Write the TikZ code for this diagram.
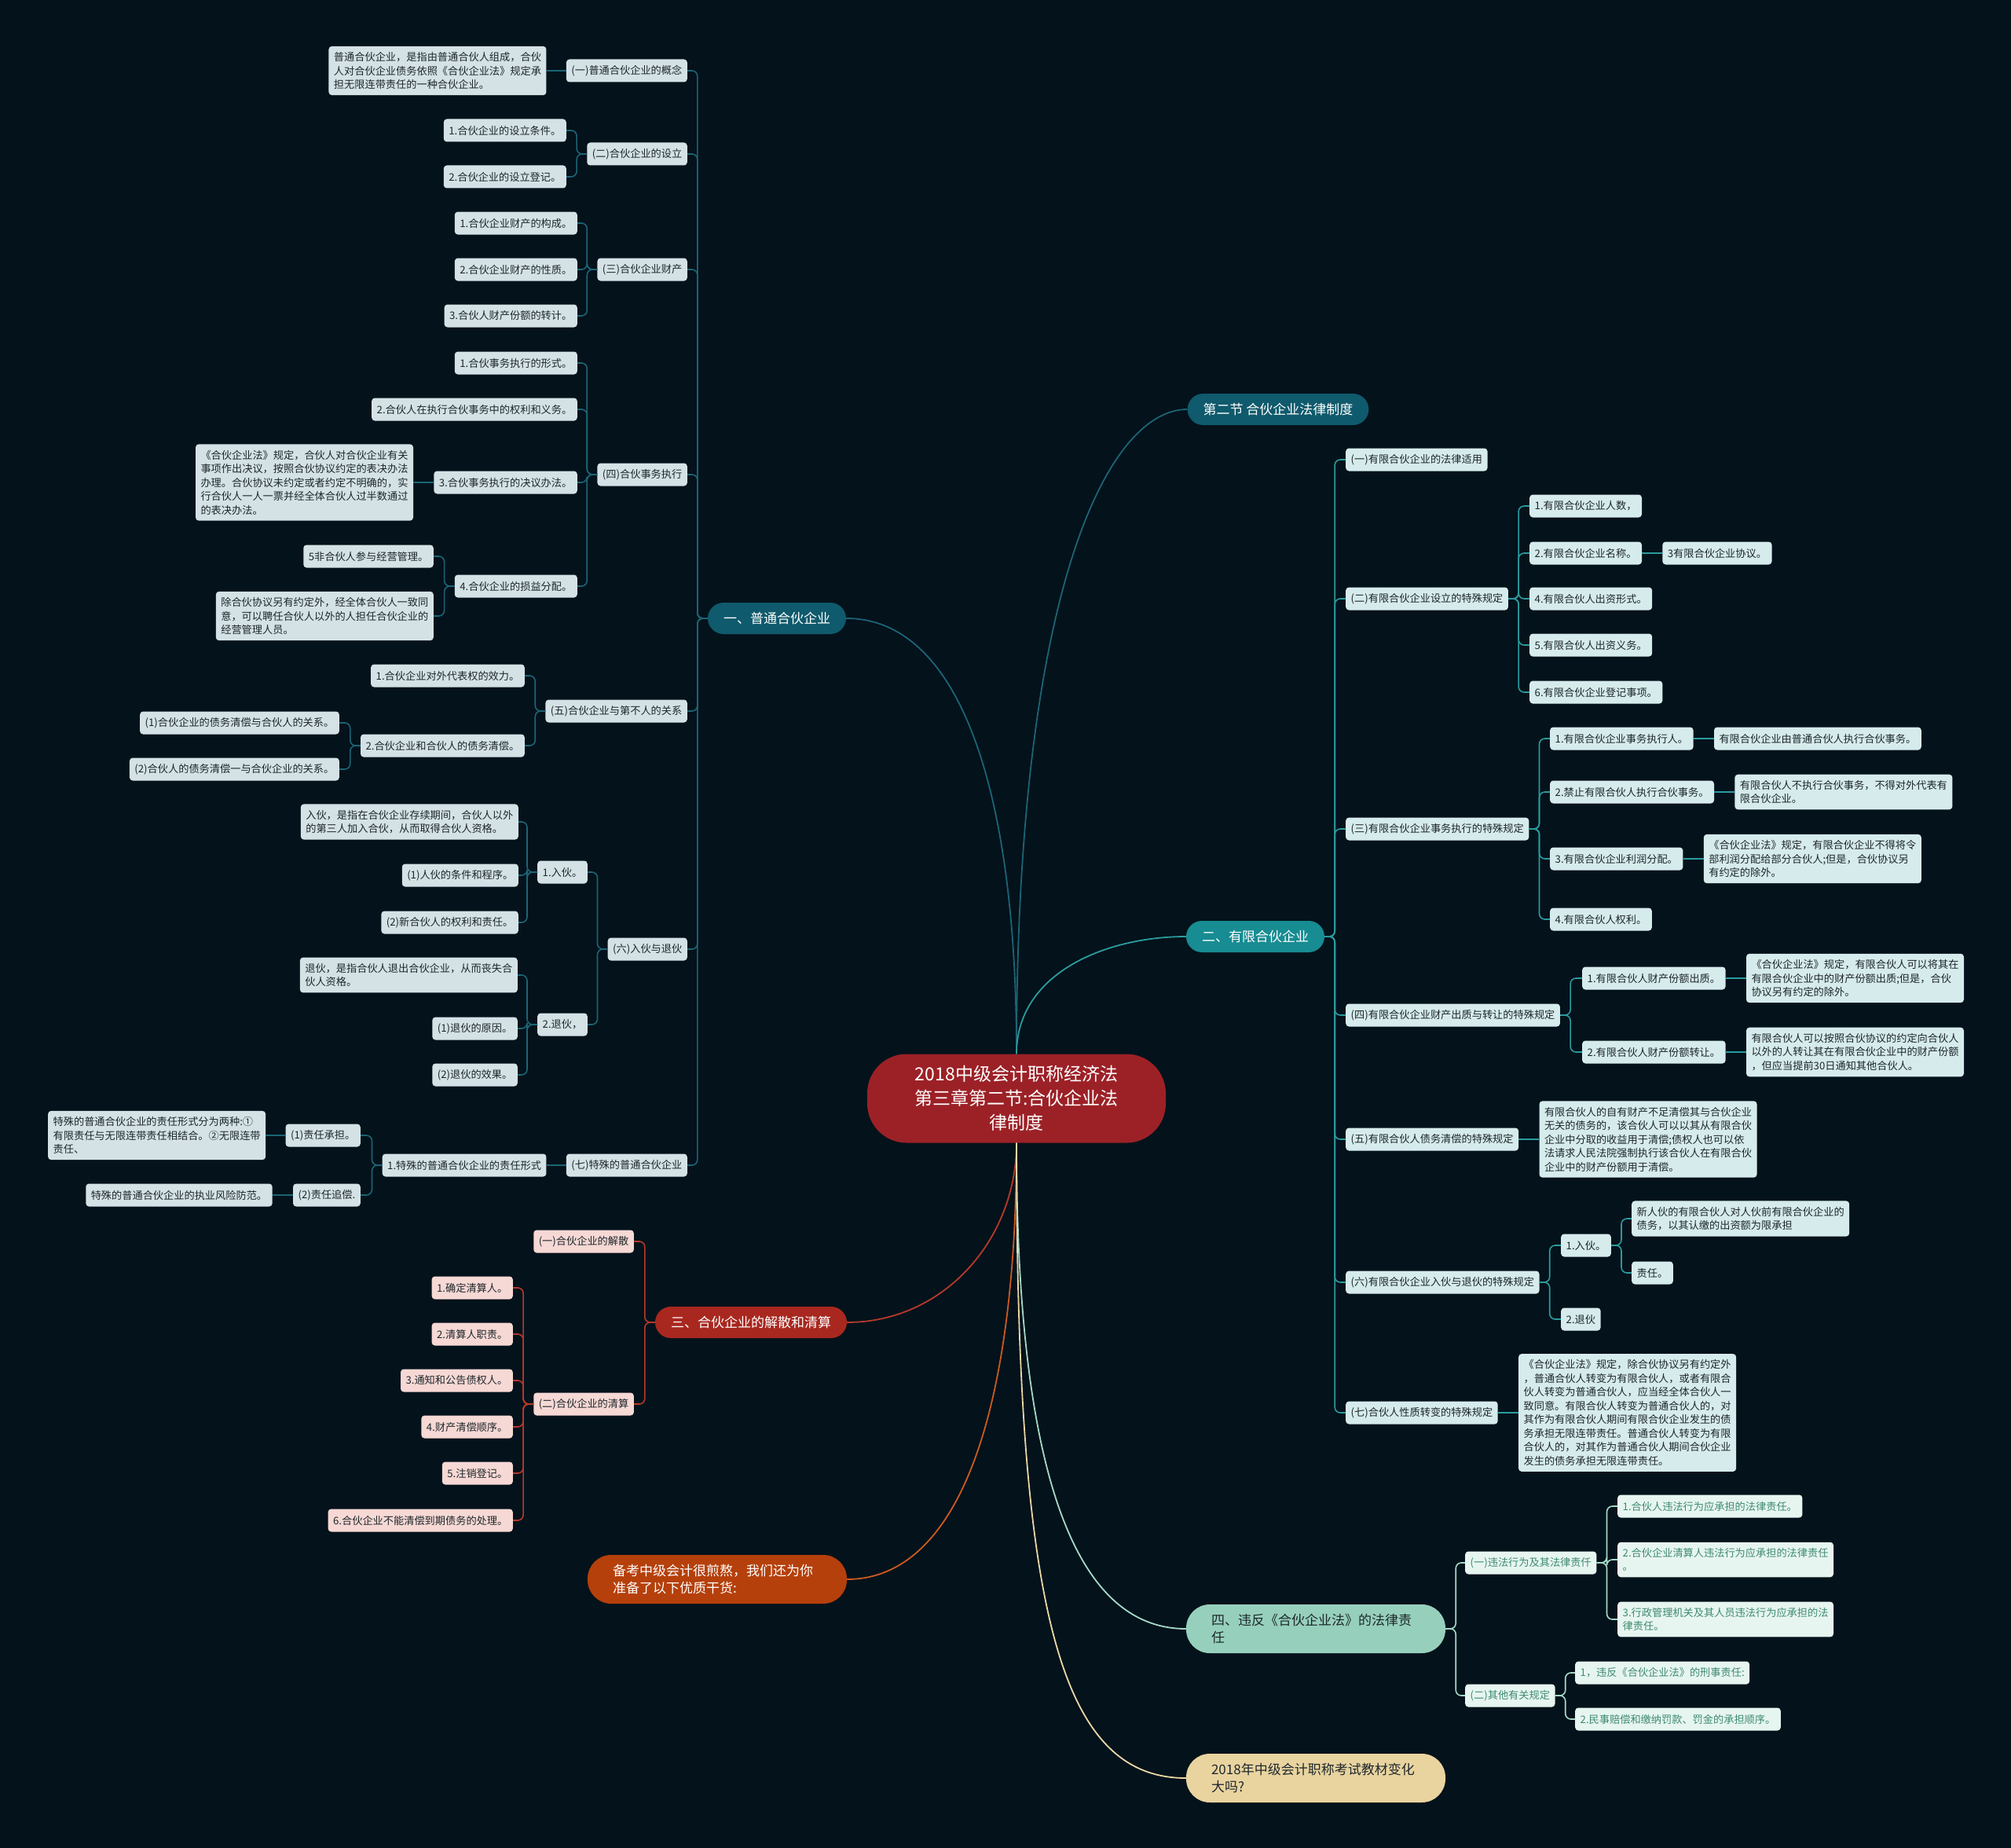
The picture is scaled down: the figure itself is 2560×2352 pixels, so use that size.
\documentclass[tikz,border=0pt]{standalone}
\usepackage{fontspec}
\setmainfont{Noto Sans CJK SC}
\usepackage{tikz}
\usetikzlibrary{positioning}
\definecolor{nightBg}{HTML}{04121B}
\definecolor{deepTeal}{HTML}{0F5A6C}
\definecolor{brightTeal}{HTML}{178C92}
\definecolor{rootRed}{HTML}{9C2127}
\definecolor{brick}{HTML}{A8281F}
\definecolor{rust}{HTML}{B5400B}
\definecolor{mint}{HTML}{96D0BC}
\definecolor{sand}{HTML}{E9D4A0}
\definecolor{paleSlate}{HTML}{D4E2E6}
\definecolor{paleCyan}{HTML}{D6EBEC}
\definecolor{palePink}{HTML}{F6D8D4}
\definecolor{paleMint}{HTML}{E7F5F0}
\definecolor{ink}{HTML}{1E272C}
\definecolor{mintInk}{HTML}{3E8B70}
\definecolor{lineTeal}{HTML}{1C6475}
\definecolor{lineCyan}{HTML}{2A9C9E}
\definecolor{lineRed}{HTML}{B63A2B}
\definecolor{lineRust}{HTML}{CB5B20}
\definecolor{lineMint}{HTML}{A4D9C7}
\definecolor{lineSand}{HTML}{EAD8A6}
\tikzset{
  leaf/.style={rectangle, rounded corners=4pt, fill=paleSlate, text=ink, align=left,
               font=\fontsize{13.2}{17.5}\selectfont, inner xsep=6.5pt, inner ysep=7.5pt,
               minimum height=29pt},
  leafcyan/.style={leaf, fill=paleCyan},
  leafpink/.style={leaf, fill=palePink},
  leafmint/.style={leaf, fill=paleMint, text=mintInk},
  branch/.style={rectangle, rounded corners=20pt, text=white, minimum height=40pt,
                 inner xsep=20pt, font=\fontsize{17}{22.5}\selectfont},
  widebranch/.style={rectangle, rounded corners=30pt, text width=266pt, inner xsep=32pt,
                     inner ysep=11pt, minimum height=62pt, align=left,
                     font=\fontsize{17}{22.5}\selectfont},
  hub/.style={rectangle, rounded corners=50pt, fill=rootRed, text=white, text width=270pt,
              inner xsep=55pt, minimum height=113pt, align=center,
              font=\fontsize{23}{31}\selectfont},
  toL/.style={to path={-- ++(-13,0) |- (\tikztotarget)}},
  toR/.style={to path={-- ++(13,0) |- (\tikztotarget)}},
  link/.style={line width=1.6pt, rounded corners=7pt},
  stem/.style={line width=1.8pt}
}
\begin{document}
\begin{tikzpicture}[x=1pt, y=-1pt]
\fill[nightBg] (0,0) rectangle (2560,2352);
\useasboundingbox (0,0) rectangle (2560,2352);

% centre and main branches
\node[hub] (hub) at (1294,1398) {2018中级会计职称经济法\\第三章第二节:合伙企业法\\律制度};
\node[branch, fill=deepTeal] (pt) at (989,787) {一、普通合伙企业};
\node[branch, fill=deepTeal] (jz) at (1627,521) {第二节 合伙企业法律制度};
\node[branch, fill=brightTeal] (yx) at (1598,1192) {二、有限合伙企业};
\node[branch, fill=brick] (js) at (956,1683) {三、合伙企业的解散和清算};
\node[widebranch, fill=rust, text=white] (bk) at (913,2010) {备考中级会计很煎熬，我们还为你\\准备了以下优质干货:};
\node[widebranch, fill=mint, text=ink] (wf) at (1675,2073) {四、违反《合伙企业法》的法律责\\任};
\node[widebranch, fill=sand, text=ink] (jc) at (1675,2263) {2018年中级会计职称考试教材变化\\大吗?};

% 一、普通合伙企业
\node[leaf, anchor=east] (pt1) at (875,90) {(一)普通合伙企业的概念};
\node[leaf, left=25pt of pt1] (pt1x) {普通合伙企业，是指由普通合伙人组成，合伙\\人对合伙企业债务依照《合伙企业法》规定承\\担无限连带责任的一种合伙企业。};
\node[leaf, anchor=east] (pt2) at (875,196) {(二)合伙企业的设立};
\node[leaf, anchor=east] (pt2a) at (721,166) {1.合伙企业的设立条件。};
\node[leaf, anchor=east] (pt2b) at (721,225) {2.合伙企业的设立登记。};
\node[leaf, anchor=east] (pt3) at (875,343) {(三)合伙企业财产};
\node[leaf, anchor=east] (pt3a) at (735,284) {1.合伙企业财产的构成。};
\node[leaf, anchor=east] (pt3b) at (735,343) {2.合伙企业财产的性质。};
\node[leaf, anchor=east] (pt3c) at (735,402) {3.合伙人财产份额的转计。};
\node[leaf, anchor=east] (pt4) at (875,604) {(四)合伙事务执行};
\node[leaf, anchor=east] (pt4a) at (735,462) {1.合伙事务执行的形式。};
\node[leaf, anchor=east] (pt4b) at (735,521) {2.合伙人在执行合伙事务中的权利和义务。};
\node[leaf, anchor=east] (pt4c) at (735,614) {3.合伙事务执行的决议办法。};
\node[leaf, left=26pt of pt4c] (pt4cx) {《合伙企业法》规定，合伙人对合伙企业有关\\事项作出决议，按照合伙协议约定的表决办法\\办理。合伙协议未约定或者约定不明确的，实\\行合伙人一人一票并经全体合伙人过半数通过\\的表决办法。};
\node[leaf, anchor=east] (pt4d) at (735,746) {4.合伙企业的损益分配。};
\node[leaf, anchor=east] (pt4d1) at (552,708) {5非合伙人参与经营管理。};
\node[leaf, anchor=east] (pt4d2) at (552,784) {除合伙协议另有约定外，经全体合伙人一致同\\意，可以聘任合伙人以外的人担任合伙企业的\\经营管理人员。};
\node[leaf, anchor=east] (pt5) at (875,905) {(五)合伙企业与第不人的关系};
\node[leaf, anchor=east] (pt5a) at (668,860) {1.合伙企业对外代表权的效力。};
\node[leaf, anchor=east] (pt5b) at (668,949) {2.合伙企业和合伙人的债务清偿。};
\node[leaf, anchor=east] (pt5b1) at (432,920) {(1)合伙企业的债务清偿与合伙人的关系。};
\node[leaf, anchor=east] (pt5b2) at (432,979) {(2)合伙人的债务清偿一与合伙企业的关系。};
\node[leaf, anchor=east] (pt6) at (875,1208) {(六)入伙与退伙};
\node[leaf, anchor=east] (pt6a) at (748,1110) {1.入伙。};
\node[leaf, anchor=east] (pt6a1) at (660,1046) {入伙，是指在合伙企业存续期间，合伙人以外\\的第三人加入合伙，从而取得合伙人资格。};
\node[leaf, anchor=east] (pt6a2) at (660,1114) {(1)人伙的条件和程序。};
\node[leaf, anchor=east] (pt6a3) at (660,1174) {(2)新合伙人的权利和责任。};
\node[leaf, anchor=east] (pt6b) at (748,1304) {2.退伙，};
\node[leaf, anchor=east] (pt6b1) at (659,1241) {退伙，是指合伙人退出合伙企业，从而丧失合\\伙人资格。};
\node[leaf, anchor=east] (pt6b2) at (659,1309) {(1)退伙的原因。};
\node[leaf, anchor=east] (pt6b3) at (659,1368) {(2)退伙的效果。};
\node[leaf, anchor=east] (pt7) at (875,1483) {(七)特殊的普通合伙企业};
\node[leaf, left=25pt of pt7] (pt7a) {1.特殊的普通合伙企业的责任形式};
\node[leaf, anchor=east] (pt7a1) at (459,1445) {(1)责任承担。};
\node[leaf, left=25pt of pt7a1] (pt7a1x) {特殊的普通合伙企业的责任形式分为两种:①\\有限责任与无限连带责任相结合。②无限连带\\责任、};
\node[leaf, anchor=east] (pt7a2) at (459,1521) {(2)责任追偿.};
\node[leaf, left=26pt of pt7a2] (pt7a2x) {特殊的普通合伙企业的执业风险防范。};

% 二、有限合伙企业
\node[leafcyan, anchor=west] (yx1) at (1713,585) {(一)有限合伙企业的法律适用};
\node[leafcyan, anchor=west] (yx2) at (1713,762) {(二)有限合伙企业设立的特殊规定};
\node[leafcyan, anchor=west] (yx2a) at (1947,644) {1.有限合伙企业人数，};
\node[leafcyan, anchor=west] (yx2b) at (1947,704) {2.有限合伙企业名称。};
\node[leafcyan, right=26pt of yx2b] (yx2bx) {3有限合伙企业协议。};
\node[leafcyan, anchor=west] (yx2c) at (1947,762) {4.有限合伙人出资形式。};
\node[leafcyan, anchor=west] (yx2d) at (1947,821) {5.有限合伙人出资义务。};
\node[leafcyan, anchor=west] (yx2e) at (1947,881) {6.有限合伙企业登记事项。};
\node[leafcyan, anchor=west] (yx3) at (1713,1055) {(三)有限合伙企业事务执行的特殊规定};
\node[leafcyan, anchor=west] (yx3a) at (1973,940) {1.有限合伙企业事务执行人。};
\node[leafcyan, right=26pt of yx3a] (yx3ax) {有限合伙企业由普通合伙人执行合伙事务。};
\node[leafcyan, anchor=west] (yx3b) at (1973,1008) {2.禁止有限合伙人执行合伙事务。};
\node[leafcyan, right=26pt of yx3b] (yx3bx) {有限合伙人不执行合伙事务，不得对外代表有\\限合伙企业。};
\node[leafcyan, anchor=west] (yx3c) at (1973,1093) {3.有限合伙企业利润分配。};
\node[leafcyan, right=26pt of yx3c] (yx3cx) {《合伙企业法》规定，有限合伙企业不得将令\\部利润分配给部分合伙人;但是，合伙协议另\\有约定的除外。};
\node[leafcyan, anchor=west] (yx3d) at (1973,1170) {4.有限合伙人权利。};
\node[leafcyan, anchor=west] (yx4) at (1713,1292) {(四)有限合伙企业财产出质与转让的特殊规定};
\node[leafcyan, anchor=west] (yx4a) at (2014,1245) {1.有限合伙人财产份额出质。};
\node[leafcyan, right=26pt of yx4a] (yx4ax) {《合伙企业法》规定，有限合伙人可以将其在\\有限合伙企业中的财产份额出质;但是，合伙\\协议另有约定的除外。};
\node[leafcyan, anchor=west] (yx4b) at (2014,1339) {2.有限合伙人财产份额转让。};
\node[leafcyan, right=26pt of yx4b] (yx4bx) {有限合伙人可以按照合伙协议的约定向合伙人\\以外的人转让其在有限合伙企业中的财产份额\\，但应当提前30日通知其他合伙人。};
\node[leafcyan, anchor=west] (yx5) at (1713,1450) {(五)有限合伙人债务清偿的特殊规定};
\node[leafcyan, right=26pt of yx5] (yx5x) {有限合伙人的自有财产不足清偿其与合伙企业\\无关的债务的，该合伙人可以以其从有限合伙\\企业中分取的收益用于清偿;债权人也可以依\\法请求人民法院强制执行该合伙人在有限合伙\\企业中的财产份额用于清偿。};
\node[leafcyan, anchor=west] (yx6) at (1713,1632) {(六)有限合伙企业入伙与退伙的特殊规定};
\node[leafcyan, anchor=west] (yx6a) at (1987,1585) {1.入伙。};
\node[leafcyan, anchor=west] (yx6a1) at (2077,1551) {新人伙的有限合伙人对人伙前有限合伙企业的\\债务，以其认缴的出资额为限承担};
\node[leafcyan, anchor=west] (yx6a2) at (2077,1620) {责任。};
\node[leafcyan, anchor=west] (yx6b) at (1987,1679) {2.退伙};
\node[leafcyan, anchor=west] (yx7) at (1713,1798) {(七)合伙人性质转变的特殊规定};
\node[leafcyan, right=26pt of yx7] (yx7x) {《合伙企业法》规定，除合伙协议另有约定外\\，普通合伙人转变为有限合伙人，或者有限合\\伙人转变为普通合伙人，应当经全体合伙人一\\致同意。有限合伙人转变为普通合伙人的，对\\其作为有限合伙人期间有限合伙企业发生的债\\务承担无限连带责任。普通合伙人转变为有限\\合伙人的，对其作为普通合伙人期间合伙企业\\发生的债务承担无限连带责任。};

% 三、解散和清算
\node[leafpink, anchor=east] (js1) at (807,1580) {(一)合伙企业的解散};
\node[leafpink, anchor=east] (js2) at (807,1787) {(二)合伙企业的清算};
\node[leafpink, anchor=east] (js2a) at (653,1639) {1.确定清算人。};
\node[leafpink, anchor=east] (js2b) at (653,1698) {2.清算人职责。};
\node[leafpink, anchor=east] (js2c) at (653,1757) {3.通知和公告债权人。};
\node[leafpink, anchor=east] (js2d) at (653,1816) {4.财产清偿顺序。};
\node[leafpink, anchor=east] (js2e) at (653,1875) {5.注销登记。};
\node[leafpink, anchor=east] (js2f) at (653,1935) {6.合伙企业不能清偿到期债务的处理。};

% 四、法律责任
\node[leafmint, anchor=west] (wf1) at (1865,1989) {(一)违法行为及其法律责仟};
\node[leafmint, anchor=west] (wf1a) at (2059,1917) {1.合伙人违法行为应承担的法律责任。};
\node[leafmint, anchor=west] (wf1b) at (2059,1985) {2.合伙企业清算人违法行为应承担的法律责任\\。};
\node[leafmint, anchor=west] (wf1c) at (2059,2061) {3.行政管理机关及其人员违法行为应承担的法\\律责任。};
\node[leafmint, anchor=west] (wf2) at (1865,2158) {(二)其他有关规定};
\node[leafmint, anchor=west] (wf2a) at (2005,2129) {1，违反《合伙企业法》的刑事责任:};
\node[leafmint, anchor=west] (wf2b) at (2005,2188) {2.民事赔偿和缴纳罚款、罚金的承担顺序。};

% stems from the centre
\draw[stem, draw=lineTeal] (hub.north) to[out=90, in=0, out looseness=1.5, in looseness=0.6] (pt.east);
\draw[stem, draw=lineTeal] (hub.north) to[out=90, in=180, out looseness=1.8, in looseness=0.3] (jz.west);
\draw[stem, draw=lineCyan] (hub.north) to[out=90, in=180] (yx.west);
\draw[stem, draw=lineRed] (hub.south) to[out=-90, in=0] (js.east);
\draw[stem, draw=lineRust] (hub.south) to[out=-90, in=0, out looseness=1.5, in looseness=0.6] (bk.east);
\draw[stem, draw=lineMint] (hub.south) to[out=-90, in=180, out looseness=1.5, in looseness=0.6] (wf.west);
\draw[stem, draw=lineSand] (hub.south) to[out=-90, in=180, out looseness=1.8, in looseness=0.5] (jc.west);

% links, left side
\foreach \kid in {pt1,pt2,pt3,pt4,pt5,pt6,pt7}
  \draw[link, draw=lineTeal] (pt.west) to[toL] (\kid.east);
\foreach \kid in {pt2a,pt2b} \draw[link, draw=lineTeal] (pt2.west) to[toL] (\kid.east);
\foreach \kid in {pt3a,pt3b,pt3c} \draw[link, draw=lineTeal] (pt3.west) to[toL] (\kid.east);
\foreach \kid in {pt4a,pt4b,pt4c,pt4d} \draw[link, draw=lineTeal] (pt4.west) to[toL] (\kid.east);
\foreach \kid in {pt4d1,pt4d2} \draw[link, draw=lineTeal] (pt4d.west) to[toL] (\kid.east);
\foreach \kid in {pt5a,pt5b} \draw[link, draw=lineTeal] (pt5.west) to[toL] (\kid.east);
\foreach \kid in {pt5b1,pt5b2} \draw[link, draw=lineTeal] (pt5b.west) to[toL] (\kid.east);
\foreach \kid in {pt6a,pt6b} \draw[link, draw=lineTeal] (pt6.west) to[toL] (\kid.east);
\foreach \kid in {pt6a1,pt6a2,pt6a3} \draw[link, draw=lineTeal] (pt6a.west) to[toL] (\kid.east);
\foreach \kid in {pt6b1,pt6b2,pt6b3} \draw[link, draw=lineTeal] (pt6b.west) to[toL] (\kid.east);
\foreach \kid in {pt7a1,pt7a2} \draw[link, draw=lineTeal] (pt7a.west) to[toL] (\kid.east);
\draw[link, draw=lineTeal] (pt1.west) -- (pt1x.east);
\draw[link, draw=lineTeal] (pt4c.west) -- (pt4cx.east);
\draw[link, draw=lineTeal] (pt7.west) -- (pt7a.east);
\draw[link, draw=lineTeal] (pt7a1.west) -- (pt7a1x.east);
\draw[link, draw=lineTeal] (pt7a2.west) -- (pt7a2x.east);

% links, red branch
\foreach \kid in {js1,js2} \draw[link, draw=lineRed] (js.west) to[toL] (\kid.east);
\foreach \kid in {js2a,js2b,js2c,js2d,js2e,js2f} \draw[link, draw=lineRed] (js2.west) to[toL] (\kid.east);

% links, right side
\foreach \kid in {yx1,yx2,yx3,yx4,yx5,yx6,yx7}
  \draw[link, draw=lineCyan] (yx.east) to[toR] (\kid.west);
\foreach \kid in {yx2a,yx2b,yx2c,yx2d,yx2e} \draw[link, draw=lineCyan] (yx2.east) to[toR] (\kid.west);
\foreach \kid in {yx3a,yx3b,yx3c,yx3d} \draw[link, draw=lineCyan] (yx3.east) to[toR] (\kid.west);
\foreach \kid in {yx4a,yx4b} \draw[link, draw=lineCyan] (yx4.east) to[toR] (\kid.west);
\foreach \kid in {yx6a,yx6b} \draw[link, draw=lineCyan] (yx6.east) to[toR] (\kid.west);
\foreach \kid in {yx6a1,yx6a2} \draw[link, draw=lineCyan] (yx6a.east) to[toR] (\kid.west);
\draw[link, draw=lineCyan] (yx2b.east) -- (yx2bx.west);
\draw[link, draw=lineCyan] (yx3a.east) -- (yx3ax.west);
\draw[link, draw=lineCyan] (yx3b.east) -- (yx3bx.west);
\draw[link, draw=lineCyan] (yx3c.east) -- (yx3cx.west);
\draw[link, draw=lineCyan] (yx4a.east) -- (yx4ax.west);
\draw[link, draw=lineCyan] (yx4b.east) -- (yx4bx.west);
\draw[link, draw=lineCyan] (yx5.east) -- (yx5x.west);
\draw[link, draw=lineCyan] (yx7.east) -- (yx7x.west);

% links, mint branch
\foreach \kid in {wf1,wf2} \draw[link, draw=lineMint] (wf.east) to[toR] (\kid.west);
\foreach \kid in {wf1a,wf1b,wf1c} \draw[link, draw=lineMint] (wf1.east) to[toR] (\kid.west);
\foreach \kid in {wf2a,wf2b} \draw[link, draw=lineMint] (wf2.east) to[toR] (\kid.west);
\end{tikzpicture}
\end{document}
